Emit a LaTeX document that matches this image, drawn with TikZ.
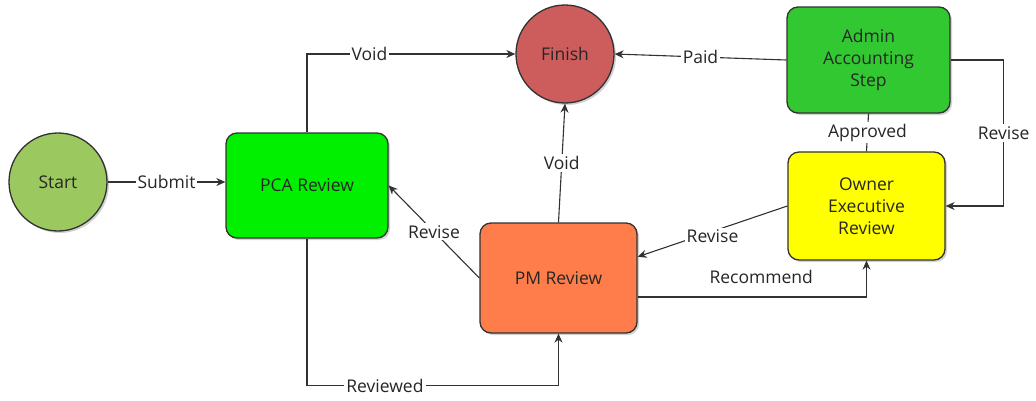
\documentclass[tikz,border=0pt]{standalone}
\usepackage{fontspec}
\setmainfont{Open Sans}
\usetikzlibrary{arrows.meta,calc,shadows}
\definecolor{startgreen}{RGB}{155,200,95}
\definecolor{pcagreen}{RGB}{0,240,0}
\definecolor{finishred}{RGB}{205,92,92}
\definecolor{admingreen}{RGB}{50,200,50}
\definecolor{owneryellow}{RGB}{255,255,0}
\definecolor{pmorange}{RGB}{255,125,75}
\definecolor{edge}{RGB}{50,50,50}
\begin{document}
\begin{tikzpicture}[x=1pt,y=-1pt,
  every node/.style={font=\fontsize{17.5}{22}\selectfont, text=black!85},
  shadowed/.style={drop shadow={opacity=0.35, shadow xshift=2pt, shadow yshift=-2pt}},
  box/.style={draw=edge, line width=1.3pt, rounded corners=11pt, align=center, inner sep=0pt, shadowed},
  circ/.style={draw=edge, line width=1.3pt, circle, inner sep=0pt, minimum size=98pt, shadowed},
  conn/.style={draw=edge, line width=1.1pt, -{Stealth[length=9pt,width=8pt]}},
  plain/.style={draw=edge, line width=1.1pt},
  lbl/.style={fill=white, inner sep=2pt}
]
\useasboundingbox (0,0) rectangle (1036,400);
\fill[white] (0,0) rectangle (1036,400);

\node[circ, fill=startgreen] (start) at (58,182) {Start};
\node[circ, fill=finishred] (finish) at (565,54) {Finish};
\node[box, fill=pcagreen, minimum width=162pt, minimum height=105pt] (pca) at (307,185.5) {PCA Review};
\node[box, fill=admingreen, minimum width=163pt, minimum height=106pt] (admin) at (868.5,60) {Admin\\Accounting\\Step};
\node[box, fill=owneryellow, minimum width=157pt, minimum height=108pt] (owner) at (866.5,206) {Owner\\Executive\\Review};
\node[box, fill=pmorange, minimum width=157pt, minimum height=110pt] (pm) at (558.5,278) {PM Review};

\draw[conn] (start) -- node[lbl]{Submit} (start -| pca.west);
\draw[conn] (pca.north) |- node[lbl, pos=0.65]{Void} (finish.west);
\draw[conn] (admin.west) -- node[lbl]{Paid} (finish.east);
\draw[conn] (pm.north) -- node[lbl]{Void} (finish.south);
\draw[conn] (pm.west) -- node[lbl]{Revise} (pca.east);
\draw[conn] (owner.west) -- node[lbl, yshift=-5pt]{Revise} (pm.15);
\draw[conn] ($(pm.east)+(0,19)$) -| node[pos=0.27, yshift=20pt]{Recommend} (owner.south);
\draw[plain] (owner.north) -- node[lbl]{Approved} (admin.south);
\draw[conn] (admin.east) -- ++(53,0) |- node[lbl, pos=0.25]{Revise} (owner.east);
\draw[conn] (pca.south) -- ++(0,147) -| node[lbl, pos=0.155]{Reviewed} (pm.south);
\end{tikzpicture}
\end{document}
